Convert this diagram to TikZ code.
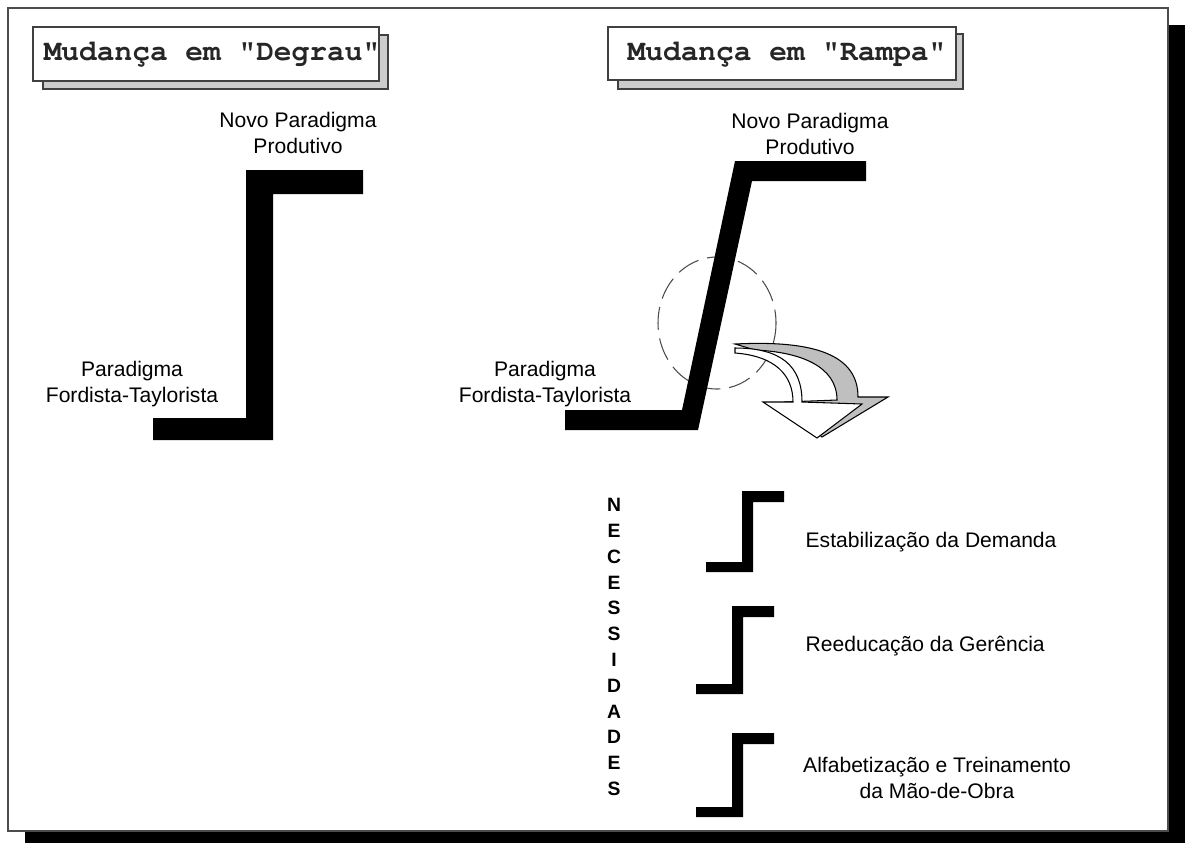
\documentclass[tikz,border=0pt]{standalone}
\usepackage[T1]{fontenc}
\usepackage{fontspec}
\setmainfont{Liberation Sans}
\newcommand\courierfam{\fontencoding{T1}\fontfamily{pcr}\bfseries\selectfont}
\usetikzlibrary{positioning}
\tikzset{every picture/.style={line width=0.75pt}}
\tikzset{
  titlebox/.style={draw=black!75,line width=1.2pt,fill=white},
  titleshadow/.style={draw=black!75,line width=1.2pt,fill=black!20},
  titletext/.style={font=\courierfam\fontsize{16.8}{20}\selectfont,inner sep=0pt,text=black!85},
  bar/.style={fill=black},
  lbl/.style={font=\fontsize{12}{14.6}\selectfont,align=center,inner sep=0pt},
  need/.style={font=\fontsize{11}{13}\selectfont\bfseries,inner sep=0pt},
  dashring/.style={draw=black!70,line width=0.6pt,dash pattern=on 13pt off 5pt},
}

\begin{document}
\begin{tikzpicture}[x=0.02cm,y=-0.02cm]
    \useasboundingbox (0,0) rectangle (1185,843);

    % Page frame with shadow
    \fill[black] (25,25) rectangle (1185,843);
    \draw[fill=white,draw=black!70,line width=1.2pt] (8,8) rectangle (1168,831);

    % Title boxes
    \draw[titleshadow] (43,35) rectangle (388,89);
    \draw[titlebox] (33,27) rectangle (379,81);
    \node[titletext] (degrau) at (212,54) {Mudança em "Degrau"};
    \draw[titleshadow] (618,34) rectangle (963,89);
    \draw[titlebox] (608,27) rectangle (956,80);
    \node[titletext] (rampa) at (787,54) {Mudança em "Rampa"};

    % Step change
    \fill[bar] (153,418) -- (246,418) -- (246,170) -- (363,170)
        -- (363,194) -- (273,194) -- (273,440) -- (153,440) -- cycle;
    \node[lbl] (novoL) at (298,133) {Novo Paradigma\\Produtivo};
    \node[lbl] (fordL) at (132,384) {Paradigma\\Fordista-Taylorista};

    % Ramp change
    \draw[dashring] (717,323) ellipse [x radius=59, y radius=66];
    \fill[bar] (565,410) -- (682,410) -- (735,161) -- (866,161)
        -- (866,181) -- (752,181) -- (698,430) -- (565,430) -- cycle;
    \node[lbl] (novoR) at (810,134) {Novo Paradigma\\Produtivo};
    \node[lbl] (fordR) at (545,384) {Paradigma\\Fordista-Taylorista};

    % Curved arrow (back face, then front face)
    \draw[fill=black!25,line width=0.6pt]
        (735,344) .. controls (815,340) and (858,355) .. (858,397)
        -- (888,397) -- (822,437) -- (785,402) -- (837,400)
        .. controls (837,366) and (800,352) .. (755,350) -- cycle;
    \draw[fill=white,line width=0.6pt]
        (735,348) .. controls (780,348) and (802,365) .. (802,402)
        -- (862,404) -- (817,438) -- (763,402) -- (793,402)
        .. controls (793,375) and (775,356) .. (735,353) -- cycle;

    % Needs
    \foreach \c [count=\i] in {N,E,C,E,S,S,I,D,A,D,E,S}
        \node[need] (nec\i) at (614,{505+25.8*(\i-1)}) {\c};
    \foreach \x/\y/\h in {706/491/81, 696/606/88, 696/733/84}
        \fill[bar] (\x,\y+\h-10) -- ++(36,0) -- (\x+36,\y) -- ++(42,0)
            -- ++(0,11) -- (\x+47,\y+11) -- (\x+47,\y+\h) -- (\x,\y+\h) -- cycle;
    \node[lbl,anchor=west] (estab) at (805,542) {Estabilização da Demanda};
    \node[lbl,anchor=west] (reeduc) at (805,646) {Reeducação da Gerência};
    \node[lbl] (alfab) at (937,778) {Alfabetização e Treinamento\\da Mão-de-Obra};
\end{tikzpicture}
\end{document}
